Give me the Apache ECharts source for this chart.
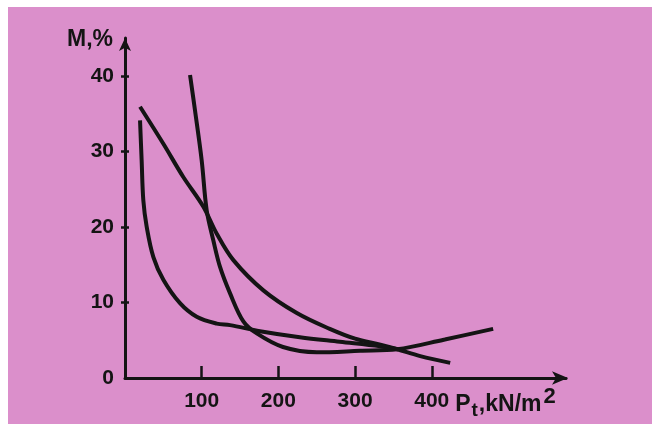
<!DOCTYPE html>
<html>
<head>
<meta charset="utf-8">
<script src="https://cdn.jsdelivr.net/npm/echarts@6/dist/echarts.min.js"></script>
<style>
  html, body { margin: 0; padding: 0; background: #ffffff; }
  #bg { position: absolute; left: 8px; top: 7px; width: 644px; height: 417px; background: #db8fcb; }
  #chart { position: absolute; left: 0; top: 0; width: 656px; height: 426px; }
</style>
</head>
<body>
<div id="bg"></div>
<div id="chart"></div>
<script>
// Tick labels
const xTickValues = [100, 200, 300, 400];
const yTickValues = [0, 10, 20, 30, 40];

// Curve A: steep curve with minimum, rising at the right end
const curveA_x = [84.8, 91.3, 100, 106.5, 115.2, 123.9, 137, 154.3, 171.8, 206, 250, 306.5, 354.8, 417, 480];
const curveA_y = [40.1, 35.4, 28.8, 22.2, 18.2, 14.7, 11.2, 7.5, 5.9, 4.1, 3.4, 3.6, 3.8, 5.1, 6.5];

// Curve B: diagonal decline, ending lowest at the right
const curveB_x = [19.6, 50, 76, 102, 119.6, 141.3, 180.4, 224, 267, 300, 333, 355, 385, 424];
const curveB_y = [35.9, 31.0, 26.6, 22.7, 19.1, 15.6, 11.6, 8.6, 6.5, 5.2, 4.4, 3.8, 2.9, 2.0];

// Curve C: near-vertical drop, then flat
const curveC_x = [19.6, 21.7, 23.9, 28.3, 37, 50, 71.7, 93.5, 119.6, 137, 176, 228, 280, 332.6, 356];
const curveC_y = [34.1, 28.8, 23.5, 20.0, 16.0, 13.0, 9.9, 8.1, 7.2, 7.0, 6.2, 5.4, 4.8, 4.2, 3.8];

const zip = (xs, ys) => xs.map((x, i) => [x, ys[i]]);

const FONT = "'Liberation Sans', Arial, sans-serif";
const INK = '#141414';
const FS = 21;
const FW = 'bold';

const chart = echarts.init(document.getElementById('chart'), null, { renderer: 'canvas' });

const lineSeries = (name, xs, ys) => ({
  name: name,
  type: 'line',
  data: zip(xs, ys),
  smooth: 0.35,
  symbol: 'none',
  lineStyle: { color: INK, width: 4 },
  z: 5
});

chart.setOption({
  backgroundColor: 'transparent',
  animation: false,
  grid: { left: 125, top: 38, width: 441, height: 340, containLabel: false },
  xAxis: {
    type: 'value',
    min: 0,
    max: 575,
    splitLine: { show: false },
    axisLine: {
      show: true,
      lineStyle: { color: INK, width: 3 },
      symbol: ['none', 'arrow'],
      symbolSize: [10, 16],
      symbolOffset: [0, 2]
    },
    axisTick: {
      show: true,
      inside: true,
      length: 12,
      lineStyle: { color: INK, width: 2.5 },
      customValues: xTickValues
    },
    axisLabel: {
      show: true,
      customValues: xTickValues,
      margin: 13,
      color: INK,
      fontFamily: FONT,
      fontSize: FS,
      fontWeight: FW
    },
    name: '{a|P}{t|t}{a|,kN/m}{s|2}',
    nameLocation: 'end',
    nameGap: -113,
    nameTextStyle: {
      align: 'left',
      verticalAlign: 'top',
      padding: [11, 0, 0, 0],
      rich: {
        a: { fontFamily: FONT, fontSize: 23, fontWeight: FW, color: INK, verticalAlign: 'top', padding: [4, 0, 0, 0] },
        t: { fontFamily: FONT, fontSize: 19, fontWeight: FW, color: INK, verticalAlign: 'top', padding: [12, 1, 0, 1] },
        s: { fontFamily: FONT, fontSize: 22, fontWeight: FW, color: INK, verticalAlign: 'top', padding: [-3, 0, 0, 2] }
      }
    }
  },
  yAxis: [
    {
      type: 'value',
      min: 0,
      max: 45,
      splitLine: { show: false },
      axisLine: {
        show: true,
        lineStyle: { color: INK, width: 3 },
        symbol: ['none', 'arrow'],
        symbolSize: [9, 13]
      },
      axisTick: {
        show: true,
        inside: false,
        length: 4,
        lineStyle: { color: INK, width: 2.5 },
        customValues: [10, 20, 30, 40]
      },
      axisLabel: {
        show: true,
        customValues: yTickValues,
        margin: 11,
        color: INK,
        fontFamily: FONT,
        fontSize: FS,
        fontWeight: FW
      },
      name: 'M,%',
      nameLocation: 'end',
      nameGap: -2,
      nameTextStyle: {
        align: 'right',
        verticalAlign: 'middle',
        padding: [0, 12, 0, 0],
        color: INK,
        fontFamily: FONT,
        fontSize: 23,
        fontWeight: FW
      }
    },
    {
      type: 'value',
      position: 'left',
      min: 0,
      max: 45,
      splitLine: { show: false },
      axisLine: { show: false },
      axisLabel: { show: false },
      axisTick: {
        show: true,
        inside: true,
        length: 4,
        lineStyle: { color: INK, width: 2.5 },
        customValues: [10, 20, 30, 40]
      }
    }
  ],
  series: [
    lineSeries('A', curveA_x, curveA_y),
    lineSeries('B', curveB_x, curveB_y),
    lineSeries('C', curveC_x, curveC_y)
  ]
});
</script>
</body>
</html>
